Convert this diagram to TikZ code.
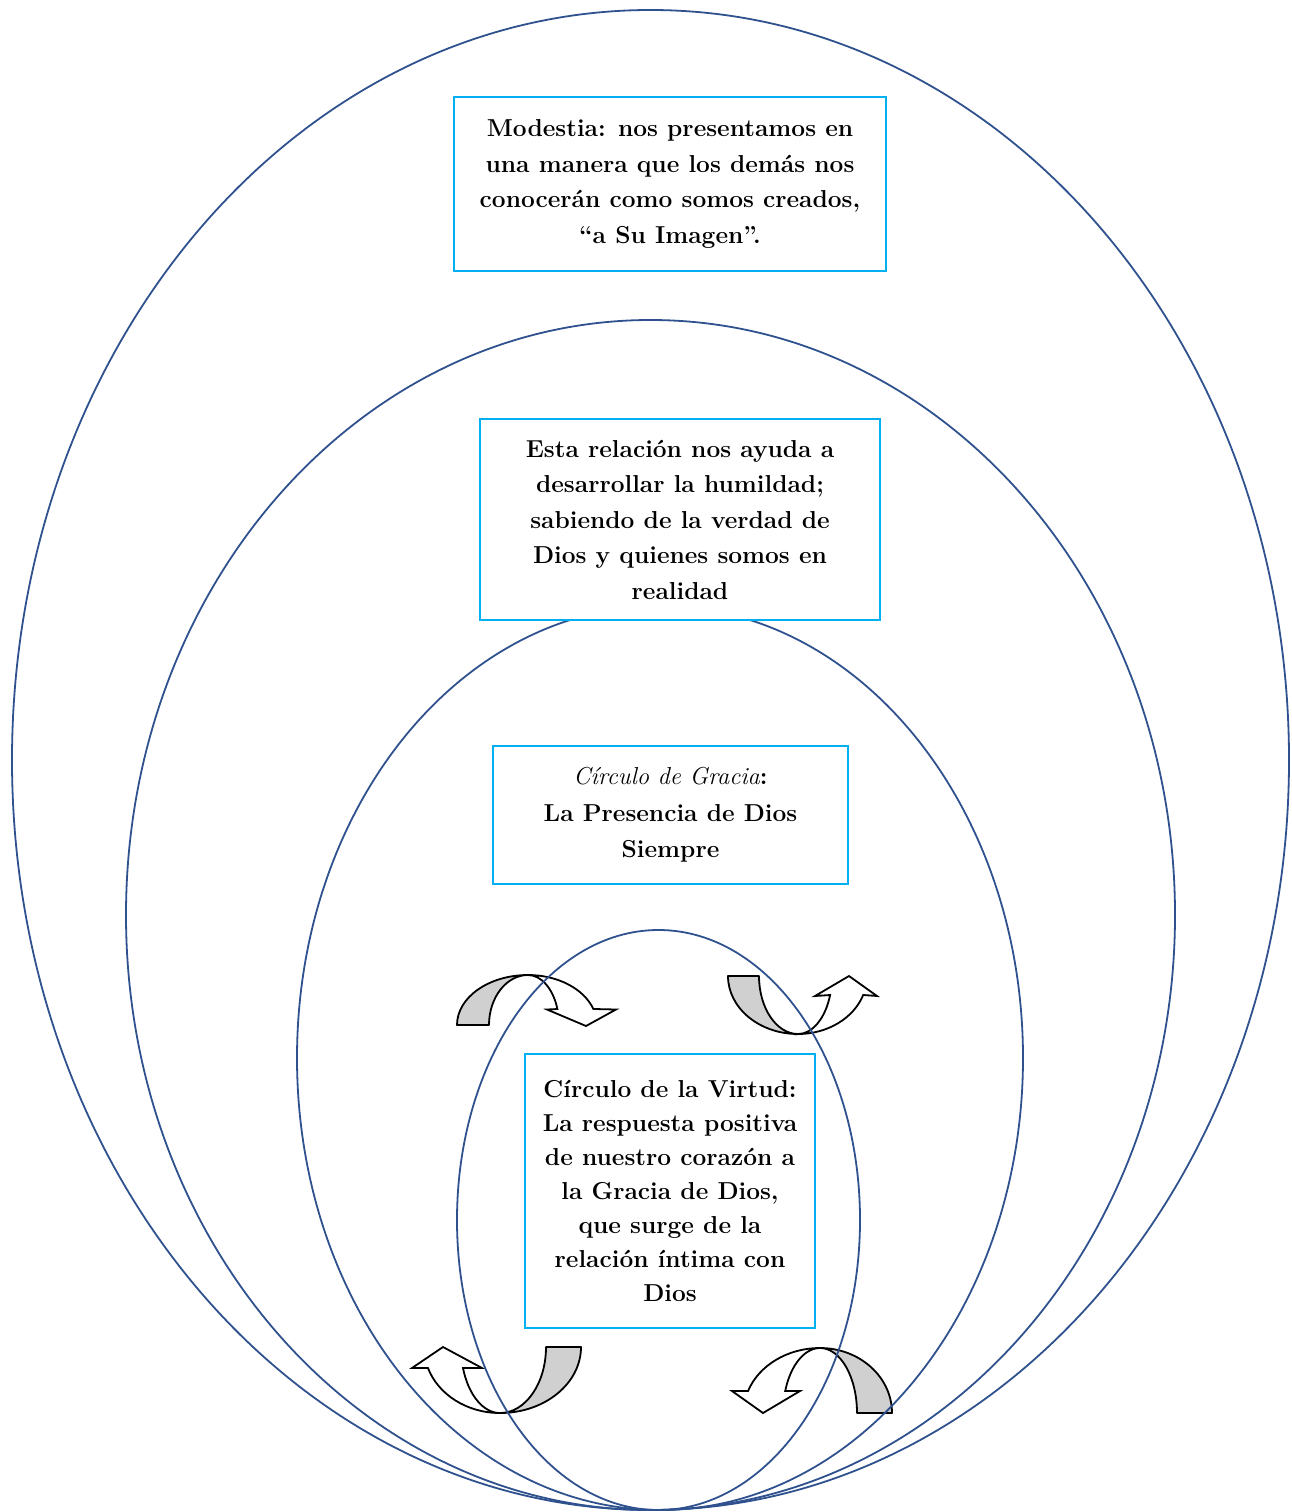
\documentclass[tikz,border=0pt]{standalone}
\usepackage{fontspec}
\definecolor{ellblue}{RGB}{47,82,143}
\definecolor{boxcyan}{RGB}{0,176,240}
\definecolor{arrgray}{RGB}{208,208,208}
\begin{document}
\begin{tikzpicture}[x=1pt,y=-1pt,
  ring/.style={draw=ellblue,line width=1.8pt},
  txtbox/.style={draw=boxcyan,line width=2pt,fill=white,align=center,inner sep=0pt,
    font=\fontsize{24.5}{35.5}\selectfont\bfseries},
  backband/.style={draw=black,line width=1.8pt,fill=arrgray,line join=round},
  frontband/.style={draw=black,line width=1.8pt,fill=white,line join=miter}]
\useasboundingbox (0,0) rectangle (1291,1512);
% curved arrows (drawn first, rings pass over them)
% arrow 1: top left, curved down, head right
\path[frontband] (528,975) arc[start angle=270,end angle=341.3,x radius=69,y radius=50]
  -- (616,1009.5) -- (586,1026) -- (547,1009.5) -- (557.4,1009)
  arc[start angle=341.3,end angle=270,x radius=31,y radius=50] -- cycle;
\path[backband] (457,1025) arc[start angle=180,end angle=270,x radius=71,y radius=50]
  arc[start angle=270,end angle=180,x radius=39,y radius=50] -- cycle;
% arrow 2: top right, curved up, head right
\path[frontband] (798,1034) arc[start angle=90,end angle=19.1,x radius=69,y radius=58]
  -- (877,996) -- (849,976) -- (815,996) -- (830.1,995)
  arc[start angle=19.1,end angle=90,x radius=34,y radius=58] -- cycle;
\path[backband] (728,976) arc[start angle=180,end angle=90,x radius=70,y radius=58]
  arc[start angle=90,end angle=180,x radius=39,y radius=58] -- cycle;
% arrow 3: bottom left, curved up, head left
\path[frontband] (500,1413) arc[start angle=90,end angle=161.45,x radius=76,y radius=66]
  -- (412,1368) -- (443,1347) -- (482,1368) -- (463,1368)
  arc[start angle=161.45,end angle=90,x radius=39,y radius=66] -- cycle;
\path[backband] (581,1347) arc[start angle=0,end angle=90,x radius=81,y radius=66]
  arc[start angle=90,end angle=0,x radius=46,y radius=66] -- cycle;
% arrow 4: bottom right, curved down, head left
\path[frontband] (820,1348) arc[start angle=270,end angle=199.8,x radius=76.5,y radius=65]
  -- (732,1391) -- (763,1413) -- (800,1391) -- (785.2,1391)
  arc[start angle=199.8,end angle=270,x radius=37,y radius=65] -- cycle;
\path[backband] (892,1413) arc[start angle=0,end angle=-90,x radius=72,y radius=65]
  arc[start angle=-90,end angle=0,x radius=37,y radius=65] -- cycle;
% rings
\draw[ring] (650.5,760) ellipse [x radius=638.5,y radius=750];
\draw[ring] (650.5,915) ellipse [x radius=524.5,y radius=595];
\draw[ring] (660,1058) ellipse [x radius=363,y radius=452];
\draw[ring] (658.5,1220) ellipse [x radius=201.5,y radius=290];
% text boxes
\node[txtbox,minimum width=432,minimum height=174] (modestia) at (670,184)
  {Modestia: nos presentamos en\\una manera que los demás nos\\conocerán como somos creados,\\“a Su Imagen”.};
\node[txtbox,minimum width=400,minimum height=201] (relacion) at (680,519.5)
  {Esta relación nos ayuda a\\desarrollar la humildad;\\sabiendo de la verdad de\\Dios y quienes somos en\\realidad};
\node[txtbox,minimum width=355,minimum height=138,font=\fontsize{24.5}{36.5}\selectfont\bfseries] (gracia) at (670.5,815)
  {{\mdseries\itshape Círculo de Gracia}:\\La Presencia de Dios\\Siempre};
\node[txtbox,minimum width=290,minimum height=274,font=\fontsize{24.5}{34}\selectfont\bfseries] (virtud) at (670,1191)
  {Círculo de la Virtud:\\La respuesta positiva\\de nuestro corazón a\\la Gracia de Dios,\\que surge de la\\relación íntima con\\Dios};
\end{tikzpicture}
\end{document}
